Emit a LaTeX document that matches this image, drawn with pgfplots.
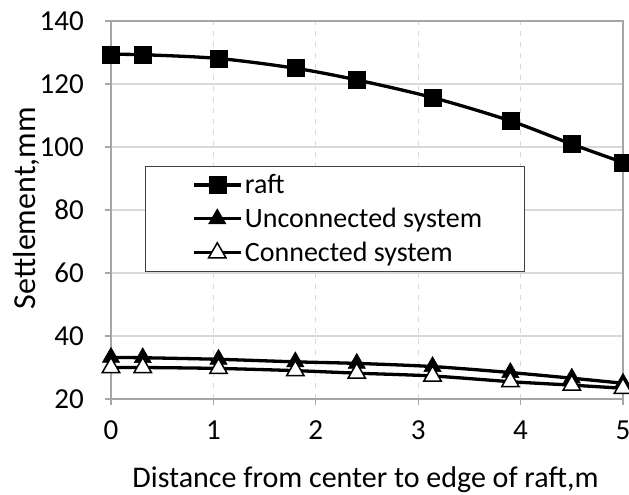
\documentclass[border=0pt]{standalone}
\usepackage{fontspec}
\setmainfont{Carlito}
\usepackage{pgfplots}
\pgfplotsset{compat=1.18}

\definecolor{gridgray}{HTML}{D9D9D9}
\definecolor{framegray}{HTML}{A6A6A6}

\begin{document}
\begin{tikzpicture}
\begin{axis}[
  scale only axis,
  width=512pt, height=378pt,
  xmin=0, xmax=5, ymin=20, ymax=140,
  xtick={0,1,2,3,4,5},
  ytick={20,40,60,80,100,120,140},
  /pgf/number format/assume math mode=true,
  axis line style={framegray, line width=1.3pt},
  tick style={framegray, line width=1.2pt},
  tick align=outside,
  major tick length=6pt,
  xtick pos=bottom, ytick pos=left,
  ymajorgrids, xmajorgrids,
  y grid style={gridgray, line width=1.6pt},
  x grid style={gridgray, line width=1.2pt, dash pattern=on 5pt off 6pt},
  ticklabel style={font=\fontsize{29}{34}\selectfont, inner sep=0pt},
  xticklabel style={anchor=base, yshift=-34pt},
  yticklabel style={anchor=east, xshift=-21pt},
  xlabel={Distance from center to edge of raft,m},
  ylabel={Settlement,mm},
  every axis x label/.style={at={([yshift=-88pt]axis description cs:0.497,0)}, anchor=base, font=\fontsize{30}{36}\selectfont},
  every axis y label/.style={at={([xshift=-85pt]axis description cs:0,0.505)}, rotate=90, anchor=center, font=\fontsize{32}{36}\selectfont},
  clip=false,
  legend cell align=left,
  legend style={at={(0.066,0.616)}, anchor=north west,
    draw=black!75, line width=1pt,
    font=\fontsize{28}{30}\selectfont,
    inner xsep=0pt, inner ysep=6pt,
    row sep=9pt,
    /tikz/every odd column/.append style={column sep=1pt}},
  legend image code/.code={%
    \path[draw=none, fill=none] (-49pt,0pt) -- (0pt,0pt);
    \draw[#1, mark repeat=2, mark phase=2] plot coordinates {(0pt,0pt) (23pt,0pt) (46pt,0pt)};},
]
\coordinate (sw) at (rel axis cs:0,0);

% raft only
\addplot[black, line width=3.3pt, smooth, mark=square*, mark size=8.5pt,
  mark options={solid, line width=0.5pt}]
  coordinates {(0,129.4) (0.31,129.3) (1.05,128.1) (1.8,125.0) (2.4,121.3)
               (3.14,115.7) (3.9,108.3) (4.5,100.9) (5,95.1)};
\addlegendentry{\makebox[278pt][l]{raft}}

% piled raft, piles not connected
\addplot[black, line width=3.3pt, smooth, mark=triangle*, mark size=10pt,
  mark options={solid, line width=0.5pt}]
  coordinates {(0,33.2) (0.31,33.1) (1.05,32.6) (1.8,31.8) (2.4,31.3)
               (3.14,30.3) (3.9,28.4) (4.5,26.6) (5,25.0)};
\addlegendentry{\makebox[278pt][l]{Unconnected system}}

% piled raft, piles connected
\addplot[black, line width=3.3pt, smooth, mark=triangle*, mark size=10pt,
  mark options={solid, fill=white, line width=1.5pt}]
  coordinates {(0,30.0) (0.31,30.0) (1.05,29.7) (1.8,29.0) (2.4,28.2)
               (3.14,27.3) (3.9,25.5) (4.5,24.4) (5,23.4)};
\addlegendentry{\makebox[278pt][l]{Connected system}}
\end{axis}
\pgfresetboundingbox
\path ([shift={(-111pt,-96pt)}]sw) rectangle ++(629pt,495pt);
\end{tikzpicture}
\end{document}
